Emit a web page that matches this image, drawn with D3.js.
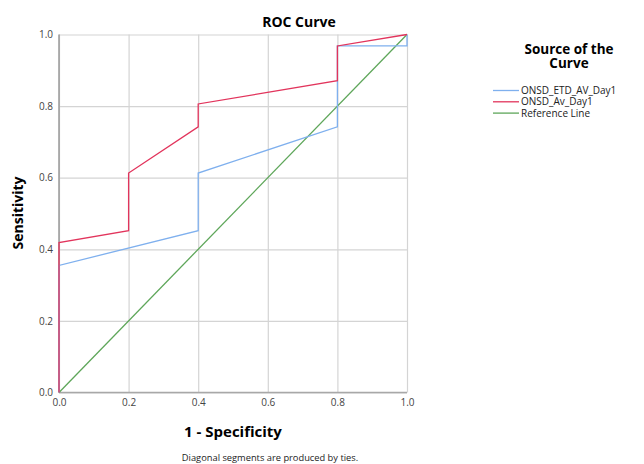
<!DOCTYPE html>
<html>
<head>
<meta charset="utf-8">
<script src="https://cdn.jsdelivr.net/npm/d3@7"></script>
<style>
  body { margin: 0; background: #fff; }
  text { font-family: "Open Sans", "DejaVu Sans", sans-serif; }
</style>
</head>
<body>
<div id="my_dataviz"></div>
<script>
// ROC curve points (1 - specificity, sensitivity)
var fprEtd = [0, 0, 0.4, 0.4, 0.8, 0.8, 1.0, 1.0]
var tprEtd = [0, 0.355, 0.452, 0.613, 0.742, 0.968, 0.968, 1.0]
var fprAv = [0, 0, 0.2, 0.2, 0.4, 0.4, 0.8, 0.8, 1.0]
var tprAv = [0, 0.419, 0.452, 0.613, 0.742, 0.806, 0.871, 0.968, 1.0]
var refLine = [0, 1]
var tickValues = [0, 0.2, 0.4, 0.6, 0.8, 1.0]
var seriesNames = ["ONSD_ETD_AV_Day1", "ONSD_Av_Day1", "Reference Line"]
var seriesColors = ["#7fb0ee", "#e2345c", "#5ea65a"]

var W = 644, H = 464
var margin = {top: 34.5, right: 237, bottom: 71.5, left: 59},
    width = W - margin.left - margin.right,
    height = H - margin.top - margin.bottom;

var root = d3.select("#my_dataviz")
  .append("svg")
    .attr("width", W)
    .attr("height", H)

var svg = root.append("g")
    .attr("transform", "translate(" + margin.left + "," + margin.top + ")")

var x = d3.scaleLinear().domain([0, 1]).range([0, width])
var y = d3.scaleLinear().domain([0, 1]).range([height, 0])

// grid
svg.append("g")
  .attr("transform", "translate(0," + height + ")")
  .call(d3.axisBottom(x).tickValues(tickValues).tickSize(-height).tickFormat(""))
  .call(function(g) { g.select(".domain").remove() })
  .selectAll(".tick line").attr("stroke", "#d4d4d4").attr("stroke-width", 1.2)
svg.append("g")
  .call(d3.axisLeft(y).tickValues(tickValues).tickSize(-width).tickFormat(""))
  .call(function(g) { g.select(".domain").remove() })
  .selectAll(".tick line").attr("stroke", "#d4d4d4").attr("stroke-width", 1.2)

// axes lines
svg.append("line").attr("x1", 0).attr("x2", 0).attr("y1", 0).attr("y2", height)
  .attr("stroke", "#9a9a9a").attr("stroke-width", 1.5)
svg.append("line").attr("x1", 0).attr("x2", width).attr("y1", height).attr("y2", height)
  .attr("stroke", "#a8a8a8").attr("stroke-width", 1.5)

// tick labels
var xAxis = svg.append("g")
  .attr("transform", "translate(0," + height + ")")
  .call(d3.axisBottom(x).tickValues(tickValues).tickSize(0).tickPadding(6).tickFormat(d3.format(".1f")))
xAxis.select(".domain").remove()
var yAxis = svg.append("g")
  .call(d3.axisLeft(y).tickValues(tickValues).tickSize(0).tickPadding(6).tickFormat(d3.format(".1f")))
yAxis.select(".domain").remove()
svg.selectAll(".tick text")
  .style("font-size", "10px")
  .attr("fill", "#444")

// curves
var line = d3.line()
  .x(function(d) { return x(d[0]) })
  .y(function(d) { return y(d[1]) })

var series = [
  d3.zip(refLine, refLine),
  d3.zip(fprEtd, tprEtd),
  d3.zip(fprAv, tprAv)
]
var order = [2, 0, 1]
series.forEach(function(s, i) {
  svg.append("path")
    .datum(s)
    .attr("fill", "none")
    .attr("stroke", seriesColors[order[i]])
    .attr("stroke-width", 1.3)
    .attr("d", line)
})

// title & labels
root.append("text")
  .attr("x", 299).attr("y", 27)
  .attr("text-anchor", "middle")
  .style("font-size", "14px").style("font-weight", "bold")
  .text("ROC Curve")

root.append("text")
  .attr("transform", "translate(23,213) rotate(-90)")
  .attr("text-anchor", "middle")
  .style("font-size", "14px").style("font-weight", "bold")
  .text("Sensitivity")

root.append("text")
  .attr("x", 233).attr("y", 437)
  .attr("text-anchor", "middle")
  .style("font-size", "15px").style("font-weight", "bold")
  .text("1 - Specificity")

root.append("text")
  .attr("x", 270).attr("y", 461)
  .attr("text-anchor", "middle")
  .style("font-size", "9.3px")
  .attr("fill", "#222")
  .text("Diagonal segments are produced by ties.")

// legend
var lg = root.append("g")
lg.append("text")
  .attr("x", 569).attr("y", 54)
  .attr("text-anchor", "middle")
  .style("font-size", "13.5px").style("font-weight", "bold")
  .text("Source of the")
lg.append("text")
  .attr("x", 569).attr("y", 68)
  .attr("text-anchor", "middle")
  .style("font-size", "13.5px").style("font-weight", "bold")
  .text("Curve")

seriesNames.forEach(function(name, i) {
  var yy = 90.5 + i * 11.3
  lg.append("line")
    .attr("x1", 493).attr("x2", 519)
    .attr("y1", yy).attr("y2", yy)
    .attr("stroke", seriesColors[i]).attr("stroke-width", 1.3)
  lg.append("text")
    .attr("x", 521).attr("y", yy + 3.5)
    .style("font-size", "10px")
    .attr("fill", "#222")
    .text(name)
})
</script>
</body>
</html>
